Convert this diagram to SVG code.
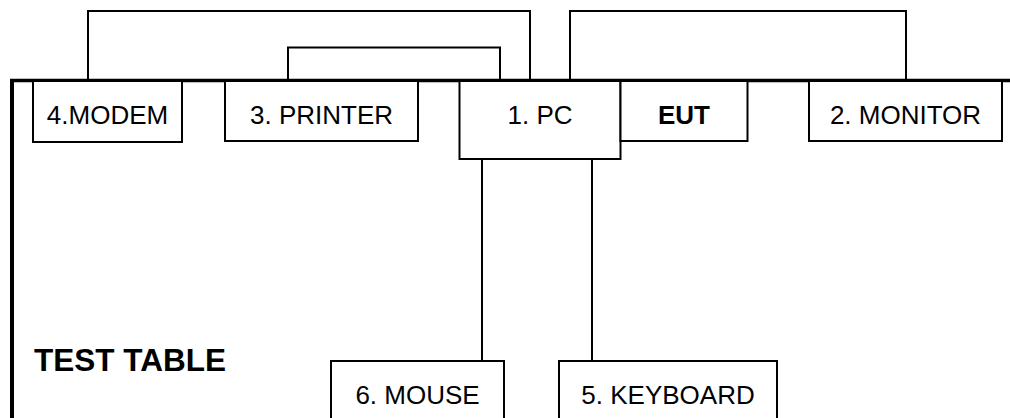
<svg xmlns="http://www.w3.org/2000/svg" width="1010" height="418" viewBox="0 0 1010 418">
<style>
.box{fill:#fff;stroke:#000;stroke-width:2}
.ln{fill:none;stroke:#000;stroke-width:2}
.t{font-family:"Liberation Sans",Arial,sans-serif;font-size:26px;fill:#000;text-anchor:middle}
.b{font-weight:bold}
</style>
<rect width="1010" height="418" fill="#fff"/>
<g id="table">
<line x1="10" y1="80.5" x2="1010" y2="80.5" stroke="#000" stroke-width="3.5"/>
<line x1="12" y1="79" x2="12" y2="418" stroke="#000" stroke-width="4"/>
<text class="t b" x="34" y="371" style="text-anchor:start;font-size:31.5px">TEST TABLE</text>
</g>
<g id="connectors">
<polyline class="ln" points="88,81 88,11 530,11 530,81"/>
<polyline class="ln" points="288,81 288,47.5 500,47.5 500,81"/>
<polyline class="ln" points="570,81 570,11 906,11 906,81"/>
<line class="ln" x1="482" y1="159" x2="482" y2="361"/>
<line class="ln" x1="592" y1="159" x2="592" y2="361"/>
</g>
<g id="modem">
<rect class="box" x="33" y="81" width="149" height="61"/>
<text class="t" x="107.5" y="124">4.MODEM</text>
</g>
<g id="printer">
<rect class="box" x="225" y="81" width="193" height="60"/>
<text class="t" x="321.5" y="124">3. PRINTER</text>
</g>
<g id="pc">
<rect class="box" x="459.5" y="81" width="161" height="78"/>
<text class="t" x="540" y="124">1. PC</text>
</g>
<g id="eut">
<rect class="box" x="620.5" y="81" width="127" height="60"/>
<text class="t b" x="684" y="124">EUT</text>
</g>
<g id="monitor">
<rect class="box" x="809" y="81" width="193" height="60"/>
<text class="t" x="905.5" y="124">2. MONITOR</text>
</g>
<g id="mouse">
<rect class="box" x="331" y="361" width="173" height="60"/>
<text class="t" x="417.5" y="404">6. MOUSE</text>
</g>
<g id="keyboard">
<rect class="box" x="559" y="361" width="218" height="60"/>
<text class="t" x="668" y="404">5. KEYBOARD</text>
</g>
</svg>
